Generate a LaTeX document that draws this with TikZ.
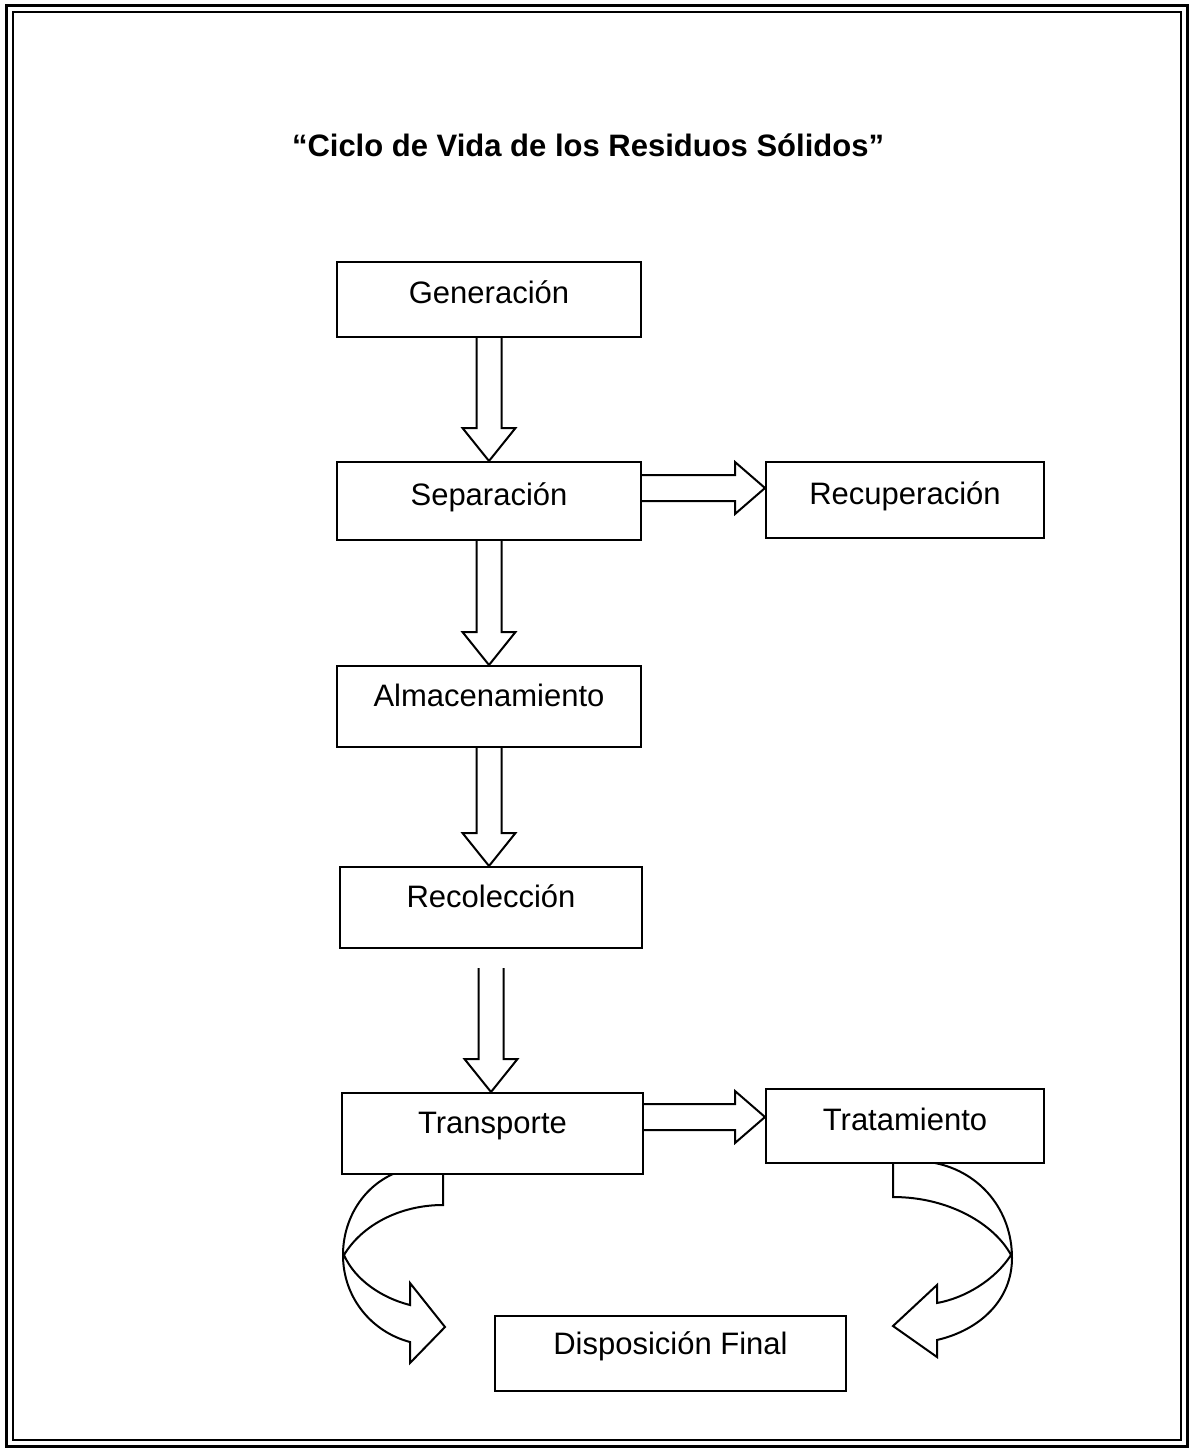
\documentclass[tikz,border=0pt]{standalone}
\usepackage{fontspec}
\setmainfont{Liberation Sans}
\usetikzlibrary{calc}
\begin{document}
\begin{tikzpicture}[x=0.5pt, y=-0.5pt, line join=miter, font=\fontsize{15.5}{18}\selectfont]
	\tikzset{caja/.style={draw, line width=1pt, minimum width=152pt, minimum height=39pt, inner sep=0pt, text height=12pt, text depth=12pt}}
	\tikzset{caja alta/.style={caja, text depth=8pt}}
	\tikzset{flecha/.style={line width=1pt}}
	
	\def\vbloque#1#2{%
		\coordinate (punta) at (#1 |- #2.north);
		\draw[flecha] ($(#1)+(-12.5,0)$) -- ($(punta)+(-12.5,-33)$) -- ($(punta)+(-26.5,-33)$) -- (punta)
		-- ($(punta)+(26.5,-33)$) -- ($(punta)+(12.5,-33)$) -- ($(#1)+(12.5,0)$);}
	\def\hbloque#1#2{%
		\coordinate (punta) at (#2.west |- #1);
		\draw[flecha] ($(#1)+(0,-13)$) -- ($(punta)+(-30,-13)$) -- ($(punta)+(-30,-26)$) -- (punta)
		-- ($(punta)+(-30,26)$) -- ($(punta)+(-30,13)$) -- ($(#1)+(0,13)$);}
	
	\useasboundingbox (0,0) rectangle (1190,1452);
	\draw[line width=1.5pt] (6,5) rectangle (1187,1446);
	\draw[line width=1pt] (13,12) rectangle (1181,1440);
	
	\node[font=\fontsize{15.5}{18}\selectfont\bfseries] (titulo) at (588,145) {“Ciclo de Vida de los Residuos Sólidos”};
	
	\node[caja alta, minimum height=37.5pt] (gen) at (489,299.5) {Generación};
	\node[caja alta] (sep) at (489,501) {Separación};
	\node[caja alta, minimum width=139pt, minimum height=38pt] (recup) at (905,500) {Recuperación};
	\node[caja, minimum height=40.5pt] (alm) at (489,706.5) {Almacenamiento};
	\node[caja, minimum width=151pt, minimum height=40.5pt] (rec) at (491,907.5) {Recolección};
	\node[caja, minimum width=150.5pt, minimum height=40.5pt] (trans) at (492.5,1133.5) {Transporte};
	\node[caja alta, minimum width=139pt, minimum height=37pt] (trat) at (905,1126) {Tratamiento};
	\node[caja, minimum width=175.5pt, minimum height=37.5pt, text depth=11pt] (disp) at (670.5,1353.5) {Disposición Final};
	
	\vbloque{gen.south}{sep}
	\vbloque{sep.south}{alm}
	\vbloque{alm.south}{rec}
	\coordinate (rec-bajo) at ($(rec.south)+(0,19)$);
	\vbloque{rec-bajo}{trans}
	
	\coordinate (sep-der) at ($(sep.east)+(0,-13)$);
	\hbloque{sep-der}{recup}
	\coordinate (trans-der) at ($(trans.east)+(0,-16.5)$);
	\hbloque{trans-der}{trat}
	
	% flechas curvas hacia la disposicion final
	\draw[flecha] (393,1174) .. controls (362,1188) and (343,1220) .. (343,1255)
		.. controls (343,1298) and (372,1332) .. (410,1342) -- (410,1363) -- (445,1327) -- (410,1283) -- (410,1305)
		.. controls (382,1298) and (355,1280) .. (344,1255)
		.. controls (362,1225) and (400,1205) .. (443,1205) -- (443,1174);
	\draw[flecha] (935,1163) .. controls (980,1172) and (1012,1210) .. (1012,1258)
		.. controls (1012,1300) and (980,1330) .. (937,1340) -- (937,1357) -- (893,1326) -- (937,1285) -- (937,1303)
		.. controls (965,1298) and (995,1280) .. (1011,1255)
		.. controls (995,1225) and (950,1197) .. (893,1197) -- (893,1163);
\end{tikzpicture}
\end{document}
